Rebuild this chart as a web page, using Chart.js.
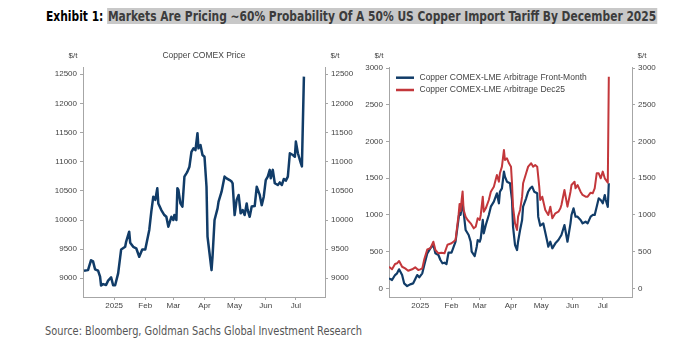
<!DOCTYPE html>
<html lang="en">
<head>
<meta charset="utf-8"/>
<title>Copper COMEX price and COMEX-LME arbitrage</title>
<script src="https://cdn.jsdelivr.net/npm/chart.js"></script>
<style>
    body {
        margin: 0;
        background: #ffffff;
        width: 692px;
        height: 347px;
        position: relative;
        overflow: hidden;
        font-family: 'Liberation Sans', Arial, sans-serif;
    }
    .fit {
        position: absolute;
        white-space: nowrap;
        transform-origin: 0 0;
        font-family: 'Liberation Sans Narrow', 'DejaVu Sans Condensed', 'Liberation Sans', sans-serif;
    }
    #title {
        left: 46px;
        top: 6px;
        font-size: 14px;
        font-weight: bold;
        line-height: 20px;
        color: #000;
    }
    #title .hl {
        background: #c8c8c8;
        color: #3c3c3c;
        padding: 0 1px 0 1px;
    }
    #source {
        left: 45px;
        top: 323px;
        font-size: 12px;
        line-height: 16px;
        color: #555;
    }
    canvas { position: absolute; top: 44px; }
    #priceChart { left: 0; }
    #arbChart { left: 362px; }
</style>
</head>
<body>
<div class="fit" id="title" data-w="611">Exhibit 1: <span class="hl">Markets Are Pricing ~60% Probability Of A 50% US Copper Import Tariff By December 2025</span></div>
<canvas id="priceChart" width="362" height="276"></canvas>
<canvas id="arbChart" width="330" height="276"></canvas>
<div class="fit" id="source" data-w="317">Source: Bloomberg, Goldman Sachs Global Investment Research</div>
<script>
    // x positions are days counted from 1 Dec 2024
    const monthTicks = [31, 62, 90, 121, 151, 182, 212];
    const monthLabels = ['2025', 'Feb', 'Mar', 'Apr', 'May', 'Jun', 'Jul'];

    // left panel: Copper COMEX price, $/t
    const priceDays = [1, 5, 8, 10, 12, 15, 17, 18, 20, 23, 25, 28, 30, 32, 35, 38, 42, 43, 46, 47,
        50, 53, 56, 59, 62, 66, 68, 70, 72, 74, 75, 78, 81, 83, 85, 88, 90, 91, 93, 94,
        95, 97, 99, 101, 103, 104, 106, 108, 110, 112, 114, 115, 117, 119, 121, 123, 124, 126, 128, 129,
        131, 134, 135, 138, 141, 143, 146, 148, 149, 151, 153, 155, 157, 159, 161, 163, 164, 166, 168, 171,
        173, 176, 178, 180, 182, 184, 186, 187, 189, 191, 194, 196, 198, 200, 202, 204, 206, 209, 211, 212,
        214, 217, 218, 220];
    const priceValues = [9130, 9140, 9310, 9290, 9155, 9130, 9030, 8875, 8900, 8885, 8960, 9015, 8880, 8880, 9085, 9495, 9540, 9630, 9800, 9610,
        9540, 9515, 9370, 9495, 9495, 9830, 10140, 10400, 10345, 10545, 10285, 10170, 10085, 10055, 9885, 10055, 10000, 10085, 10000, 10545,
        10515, 10285, 10230, 10745, 10800, 10830, 10915, 11170, 11230, 11200, 11490, 11230, 11285, 11115, 11085, 10570, 9715, 9430, 9140, 9370,
        10000, 10200, 10315, 10485, 10745, 10715, 10685, 10660, 10630, 10085, 10345, 10430, 10115, 10170, 10085, 10285, 10170, 10055, 10230, 10240,
        10570, 10430, 10255, 10400, 10685, 10745, 10860, 10715, 10860, 10630, 10600, 10645, 10600, 10705, 10675, 10745, 11145, 11115, 11085, 11345,
        11145, 10970, 10920, 12460];
    const priceTicks = [9000, 9500, 10000, 10500, 11000, 11500, 12000, 12500];

    // right panel: COMEX-LME arbitrage, $/t
    const frontDays = [0, 3, 6, 8, 10, 13, 15, 18, 21, 24, 28, 30, 33, 35, 38, 41, 44, 46, 49, 51,
        53, 55, 57, 59, 62, 66, 69, 70, 71, 72, 73, 74, 76, 79, 81, 82, 85, 87, 88, 90,
        91, 93, 94, 96, 99, 101, 104, 107, 109, 110, 112, 114, 115, 117, 120, 122, 123, 125, 127, 128,
        130, 132, 133, 136, 138, 140, 142, 144, 147, 148, 150, 153, 157, 158, 160, 162, 165, 168, 171, 174,
        177, 180, 181, 183, 185, 187, 190, 192, 195, 197, 200, 202, 204, 206, 208, 210, 212, 214, 215, 217,
        218];
    const frontValues = [136, 113, 181, 204, 259, 181, 68, 31, 54, 68, 181, 150, 204, 317, 477, 545, 590, 477, 454, 386,
        341, 349, 331, 485, 485, 635, 950, 1060, 1000, 1100, 1160, 1040, 794, 726, 635, 499, 440, 567, 658, 635,
        681, 931, 749, 862, 999, 1112, 1180, 1294, 1158, 1316, 1362, 1589, 1521, 1452, 1430, 1203, 839, 590, 522, 635,
        794, 931, 1112, 1226, 1316, 1362, 1384, 1316, 1294, 976, 853, 885, 635, 567, 635, 545, 613, 658, 726, 862,
        635, 885, 999, 1090, 976, 976, 931, 885, 907, 885, 976, 999, 999, 1112, 1226, 1203, 1158, 1271, 1203, 1110,
        1430];
    const dec25Days = [0, 3, 6, 8, 10, 13, 16, 19, 23, 26, 29, 31, 33, 35, 38, 41, 44, 46, 49, 52,
        55, 58, 62, 66, 69, 70, 71, 72, 73, 74, 76, 78, 81, 84, 86, 88, 90, 91, 93, 94,
        96, 99, 101, 104, 107, 109, 110, 112, 114, 115, 117, 119, 121, 122, 123, 125, 127, 128, 130, 132,
        133, 136, 138, 141, 143, 145, 147, 149, 150, 152, 155, 158, 160, 162, 165, 168, 170, 171, 174, 177,
        180, 181, 184, 185, 187, 190, 192, 195, 197, 200, 202, 204, 206, 208, 210, 212, 214, 217, 218];
    const dec25Values = [294, 259, 331, 341, 372, 294, 272, 240, 259, 286, 249, 259, 272, 395, 531, 545, 635, 522, 477, 485,
        477, 594, 613, 658, 1000, 1150, 1050, 1200, 1320, 1070, 976, 931, 885, 817, 839, 954, 931, 999, 1248, 1044,
        1090, 1203, 1316, 1384, 1543, 1452, 1566, 1657, 1884, 1748, 1771, 1703, 1657, 1430, 1112, 885, 794, 976, 1067, 1248,
        1430, 1566, 1657, 1703, 1657, 1680, 1657, 1384, 1203, 1248, 1067, 999, 1112, 954, 1022, 1044, 1090, 1135, 1339, 1112,
        1316, 1407, 1452, 1362, 1407, 1316, 1271, 1248, 1248, 1302, 1294, 1362, 1566, 1566, 1498, 1589, 1498, 1440, 2880];
    const arbTicks = [0, 500, 1000, 1500, 2000, 2500, 3000];

    const NAVY = '#113c68';
    const RED = '#c3373b';
    const AXIS = '#a6a6a6';
    const TEXT = '#444444';
    const FONT = "'Liberation Sans', Arial, sans-serif";

    function pts(xs, ys) {
        return xs.map((x, i) => ({ x: x, y: ys[i] }));
    }

    function xScale() {
        return {
            type: 'linear',
            min: 0,
            max: 241,
            afterBuildTicks: s => { s.ticks = monthTicks.map(v => ({ value: v })); },
            afterFit: s => { s.height = 23; },
            ticks: {
                autoSkip: false,
                maxRotation: 0,
                padding: 1,
                color: TEXT,
                font: { family: FONT, size: 8 },
                callback: v => monthLabels[monthTicks.indexOf(v)]
            },
            grid: { drawOnChartArea: false, tickLength: 3, color: AXIS },
            border: { color: AXIS }
        };
    }

    function yScale(pos, min, max, tickVals, width) {
        return {
            type: 'linear',
            position: pos,
            min: min,
            max: max,
            afterBuildTicks: s => { s.ticks = tickVals.map(v => ({ value: v })); },
            afterFit: s => { s.width = width; },
            ticks: {
                padding: 3,
                color: TEXT,
                font: { family: FONT, size: 8 },
                callback: v => String(v)
            },
            grid: { drawOnChartArea: false, tickLength: 3, color: AXIS },
            border: { color: AXIS }
        };
    }

    // "$/t" over both y axes, optional chart title and legend
    const decor = {
        id: 'decor',
        afterDraw(chart, args, opts) {
            const ctx = chart.ctx;
            const a = chart.chartArea;
            ctx.save();
            ctx.fillStyle = TEXT;
            ctx.font = '8px ' + FONT;
            ctx.textAlign = 'center';
            ctx.textBaseline = 'middle';
            ctx.fillText('$/t', a.left - 10, 12);
            ctx.fillText('$/t', a.right + 10, 12);
            if (opts.title) {
                ctx.font = '8.5px ' + FONT;
                ctx.fillText(opts.title, (a.left + a.right) / 2, 12);
            }
            if (opts.legend) {
                ctx.textAlign = 'left';
                ctx.font = '8.5px ' + FONT;
                opts.legend.forEach((item, i) => {
                    const y = a.top + 10.7 + i * 12.3;
                    ctx.strokeStyle = item.color;
                    ctx.lineWidth = 2.5;
                    ctx.beginPath();
                    ctx.moveTo(a.left + 7, y);
                    ctx.lineTo(a.left + 25, y);
                    ctx.stroke();
                    ctx.fillStyle = TEXT;
                    ctx.fillText(item.label, a.left + 30.5, y);
                });
            }
            ctx.restore();
        }
    };

    const common = {
        responsive: false,
        animation: false,
        devicePixelRatio: 1,
        layout: { padding: { top: 23, left: 0, right: 0, bottom: 0 } },
        elements: { point: { radius: 0 }, line: { tension: 0, borderJoinStyle: 'round' } },
        plugins: { legend: { display: false }, tooltip: { enabled: false } }
    };

    new Chart(document.getElementById('priceChart'), {
        type: 'line',
        data: {
            datasets: [{
                label: 'Copper COMEX Price',
                data: pts(priceDays, priceValues),
                borderColor: NAVY,
                borderWidth: 2.5,
                yAxisID: 'y'
            }]
        },
        options: Object.assign({}, common, {
            scales: {
                x: xScale(),
                y: yScale('left', 8679, 12625, priceTicks, 83),
                y2: yScale('right', 8679, 12625, priceTicks, 37)
            },
            plugins: Object.assign({}, common.plugins, { decor: { title: 'Copper COMEX Price' } })
        }),
        plugins: [decor]
    });

    new Chart(document.getElementById('arbChart'), {
        type: 'line',
        data: {
            datasets: [{
                label: 'Copper COMEX-LME Arbitrage Dec25',
                data: pts(dec25Days, dec25Values),
                borderColor: RED,
                borderWidth: 2,
                yAxisID: 'y'
            }, {
                label: 'Copper COMEX-LME Arbitrage Front-Month',
                data: pts(frontDays, frontValues),
                borderColor: NAVY,
                borderWidth: 2.2,
                yAxisID: 'y'
            }]
        },
        options: Object.assign({}, common, {
            scales: {
                x: xScale(),
                y: yScale('left', -118, 3014, arbTicks, 27),
                y2: yScale('right', -118, 3014, arbTicks, 60)
            },
            plugins: Object.assign({}, common.plugins, {
                decor: {
                    legend: [
                        { label: 'Copper COMEX-LME Arbitrage Front-Month', color: NAVY },
                        { label: 'Copper COMEX-LME Arbitrage Dec25', color: RED }
                    ]
                }
            })
        }),
        plugins: [decor]
    });

    // squeeze the condensed headings to the reference widths
    document.querySelectorAll('.fit').forEach(el => {
        const w = el.getBoundingClientRect().width;
        el.style.transform = 'scaleX(' + (Number(el.dataset.w) / w) + ')';
    });
</script>
</body>
</html>
